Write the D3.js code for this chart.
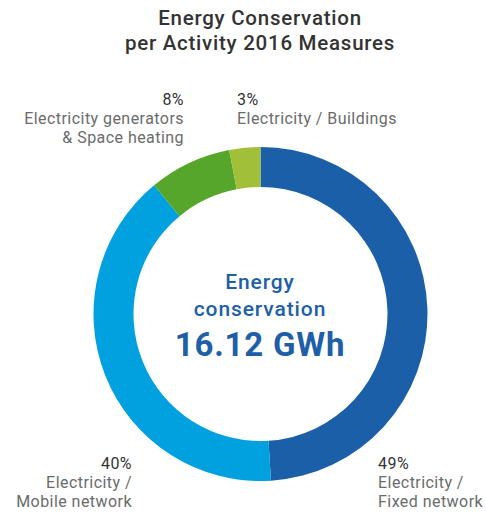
<!DOCTYPE html>
<html>
<head>
<meta charset="utf-8">
<script src="https://cdn.jsdelivr.net/npm/d3@7"></script>
<style>
  html, body { margin: 0; padding: 0; background: #fff; }
  svg { display: block; font-family: Roboto, "Noto Sans", sans-serif; }
</style>
</head>
<body>
<svg id="chart" width="486" height="512"></svg>
<script>
// Energy conservation shares per activity (percent)
const categories = ["Electricity / Fixed network", "Electricity / Mobile network", "Electricity generators & Space heating", "Electricity / Buildings"];
const shares = [49, 40, 8, 3];
const colors = ["#1b5fa8", "#00a1de", "#55a62a", "#a1bf38"];
const totalLabel = "16.12 GWh";

const svg = d3.select("#chart");
const cx = 260.5, cy = 314, outerR = 167, innerR = 127;

// Title
const title = svg.append("g")
  .attr("text-anchor", "middle")
  .attr("fill", "#333").attr("font-size", 20.5).attr("font-weight", 500)
  .attr("letter-spacing", 0.75);
title.append("text").attr("x", 260).attr("y", 25).text("Energy Conservation");
title.append("text").attr("x", 260).attr("y", 50).text("per Activity 2016 Measures");

// Donut
const pie = d3.pie().sort(null).value(d => d.value);
const arc = d3.arc().innerRadius(innerR).outerRadius(outerR);
const data = categories.map((c, i) => ({ name: c, value: shares[i], color: colors[i] }));

const g = svg.append("g").attr("transform", `translate(${cx},${cy})`);
g.selectAll("path")
  .data(pie(data))
  .join("path")
  .attr("d", arc)
  .attr("fill", d => d.data.color);

// Centre text
const centre = svg.append("g").attr("text-anchor", "middle").attr("fill", "#1d5fa8");
centre.append("text").attr("x", 260).attr("y", 289)
  .attr("font-size", 21).attr("font-weight", 500).attr("letter-spacing", 0.9).text("Energy");
centre.append("text").attr("x", 260).attr("y", 316)
  .attr("font-size", 21).attr("font-weight", 500).attr("letter-spacing", 0.9).text("conservation");
centre.append("text").attr("x", 260).attr("y", 356)
  .attr("font-size", 33).attr("font-weight", 700).attr("letter-spacing", 0.8).text(totalLabel);

// Slice labels
const labelSpecs = [
  { i: 0, x: 378, y: 469, anchor: "start", lines: ["Electricity /", "Fixed network"] },
  { i: 1, x: 132, y: 469, anchor: "end", lines: ["Electricity /", "Mobile network"] },
  { i: 2, x: 184, y: 105, anchor: "end", lines: ["Electricity generators", "& Space heating"] },
  { i: 3, x: 237, y: 105, anchor: "start", lines: ["Electricity / Buildings"] }
];

labelSpecs.forEach(s => {
  const grp = svg.append("g")
    .attr("text-anchor", s.anchor)
    .attr("font-size", 16)
    .attr("letter-spacing", 0.45);
  grp.append("text").attr("x", s.x).attr("y", s.y)
    .attr("fill", "#333").text(shares[s.i] + "%");
  s.lines.forEach((line, k) => {
    grp.append("text").attr("x", s.x).attr("y", s.y + 19 * (k + 1))
      .attr("fill", "#6b6b6b").text(line);
  });
});
</script>
</body>
</html>
